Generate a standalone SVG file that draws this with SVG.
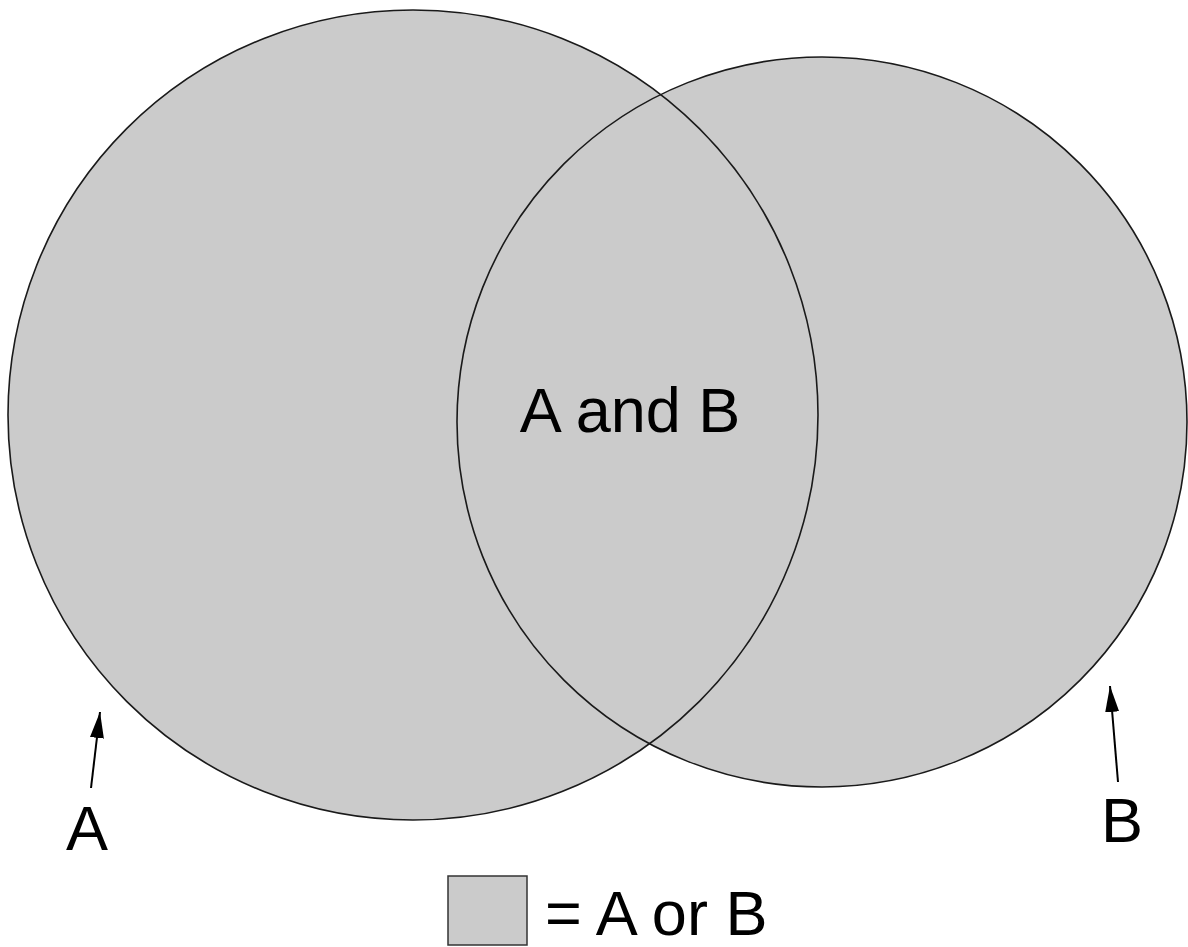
<svg xmlns="http://www.w3.org/2000/svg" width="1188" height="947" viewBox="0 0 1188 947">
  <style>
    .region { fill: #cbcbcb; stroke: none; }
    .outline { fill: none; stroke: #1a1a1a; stroke-width: 1.6; }
    .label { font-family: "Liberation Sans", Arial, sans-serif; font-size: 63px; fill: #000; }
    .pointer { stroke: #000; stroke-width: 2; fill: none; }
  </style>
  <defs>
    <marker id="head" viewBox="0 0 10 10" refX="10" refY="5" markerWidth="13" markerHeight="13" markerUnits="userSpaceOnUse" orient="auto">
      <path d="M0,0 L10,5 L0,10 z" fill="#000"/>
    </marker>
    <marker id="headLong" viewBox="0 0 26 14" refX="26" refY="7" markerWidth="26" markerHeight="14" markerUnits="userSpaceOnUse" orient="auto">
      <path d="M0,0 L26,7 L0,14 z" fill="#000"/>
    </marker>
  </defs>

  <!-- set A -->
  <g id="set-a">
    <circle class="region" cx="413" cy="415" r="405"/>
  </g>
  <!-- set B -->
  <g id="set-b">
    <circle class="region" cx="822" cy="422" r="365"/>
  </g>
  <!-- both outlines drawn over the fills so each boundary stays visible -->
  <g id="outlines">
    <circle class="outline" cx="413" cy="415" r="405"/>
    <circle class="outline" cx="822" cy="422" r="365"/>
  </g>

  <g id="intersection-label">
    <text class="label" x="630" y="432" text-anchor="middle">A and B</text>
  </g>

  <!-- pointers to each circle -->
  <g id="connectors">
    <line class="pointer" x1="91" y1="788" x2="100" y2="712" marker-end="url(#headLong)"/>
    <line class="pointer" x1="1118" y1="782" x2="1110" y2="686" marker-end="url(#headLong)"/>
  </g>

  <g id="label-a">
    <text class="label" x="87" y="850" text-anchor="middle">A</text>
  </g>
  <g id="label-b">
    <text class="label" x="1122" y="842" text-anchor="middle">B</text>
  </g>

  <!-- legend -->
  <g id="legend">
    <rect x="448" y="876" width="79" height="69" fill="#cbcbcb" stroke="#333" stroke-width="1.5"/>
    <text class="label" x="545" y="935">= A or B</text>
  </g>
</svg>
